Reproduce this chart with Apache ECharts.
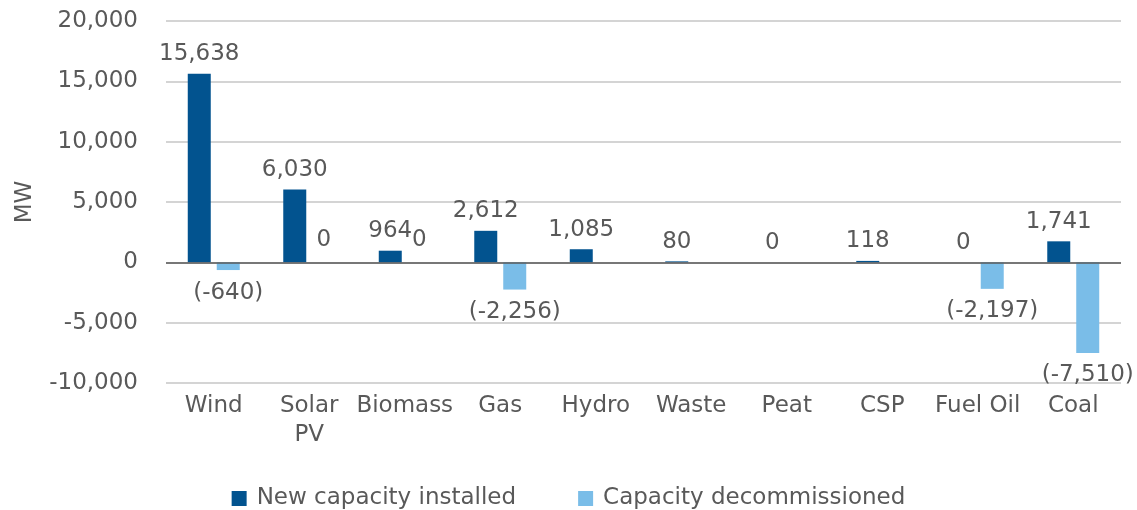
<!DOCTYPE html>
<html>
<head>
<meta charset="utf-8">
<script src="https://cdn.jsdelivr.net/npm/echarts@6/dist/echarts.min.js"></script>
<style>html,body{margin:0;padding:0;background:#fff}#c{width:1137px;height:510px}</style>
</head>
<body>
<div id="c"></div>
<script>
const categories = ['Wind', 'Solar\nPV', 'Biomass', 'Gas', 'Hydro', 'Waste', 'Peat', 'CSP', 'Fuel Oil', 'Coal'];
const newCapacity = [15638, 6030, 964, 2612, 1085, 80, 0, 118, 0, 1741];
const decommissioned = [-640, 0, 0, -2256, null, null, null, null, -2197, -7510];
const seriesNames = ['New capacity installed', 'Capacity decommissioned'];
const yTicks = { min: -10000, max: 20000, interval: 5000 };

const FONT = 'DejaVu Sans';
const TXT = '#595959';
const fmt = v => {
  if (v < 0) return '(-' + Math.abs(v).toLocaleString('en-US') + ')';
  return v.toLocaleString('en-US');
};

const chart = echarts.init(document.getElementById('c'), null, { renderer: 'canvas' });
chart.setOption({
  animation: false,
  textStyle: { fontFamily: FONT },
  grid: { left: 166, right: 16, top: 21, bottom: 127, containLabel: false, outerBoundsMode: 'none' },
  legend: {
    top: 482,
    left: 'center',
    itemWidth: 15,
    itemHeight: 15,
    itemGap: 62,
    icon: 'rect',
    textStyle: { fontFamily: FONT, fontSize: 23, color: TXT, padding: [0, 0, 0, 5] },
    data: seriesNames
  },
  xAxis: {
    type: 'category',
    data: categories,
    axisLine: { show: false, onZero: false },
    axisTick: { show: false },
    axisLabel: { interval: 0, fontFamily: FONT, fontSize: 23, color: TXT, margin: 9, lineHeight: 29 }
  },
  yAxis: {
    type: 'value',
    min: yTicks.min,
    max: yTicks.max,
    interval: yTicks.interval,
    name: 'MW',
    nameLocation: 'middle',
    nameRotate: 90,
    nameGap: 129,
    nameTextStyle: { fontFamily: FONT, fontSize: 23, color: TXT },
    axisLine: { show: false },
    axisTick: { show: false },
    axisLabel: { fontFamily: FONT, fontSize: 23, color: TXT, margin: 28, formatter: v => v.toLocaleString('en-US') },
    splitLine: { lineStyle: { color: '#c6c6c6', width: 1.5 } }
  },
  series: [
    {
      name: seriesNames[0],
      type: 'bar',
      barWidth: 23,
      barGap: '26%',
      itemStyle: { color: '#02538F' },
      label: { show: true, position: 'top', distance: 8, fontFamily: FONT, fontSize: 23, color: TXT, formatter: p => fmt(p.value) },
      data: newCapacity,
      markLine: {
        silent: true,
        symbol: 'none',
        label: { show: false },
        lineStyle: { color: '#595959', type: 'solid', width: 1.5 },
        data: [{ yAxis: 0 }]
      }
    },
    {
      name: seriesNames[1],
      type: 'bar',
      barWidth: 23,
      barGap: '26%',
      itemStyle: { color: '#7ABDE8' },
      label: { show: true, fontFamily: FONT, fontSize: 23, color: TXT, distance: 11, formatter: p => fmt(p.value) },
      data: decommissioned.map(v => v === null ? '-' : { value: v, label: { position: v < 0 ? 'bottom' : 'top' } })
    }
  ]
});
</script>
</body>
</html>
